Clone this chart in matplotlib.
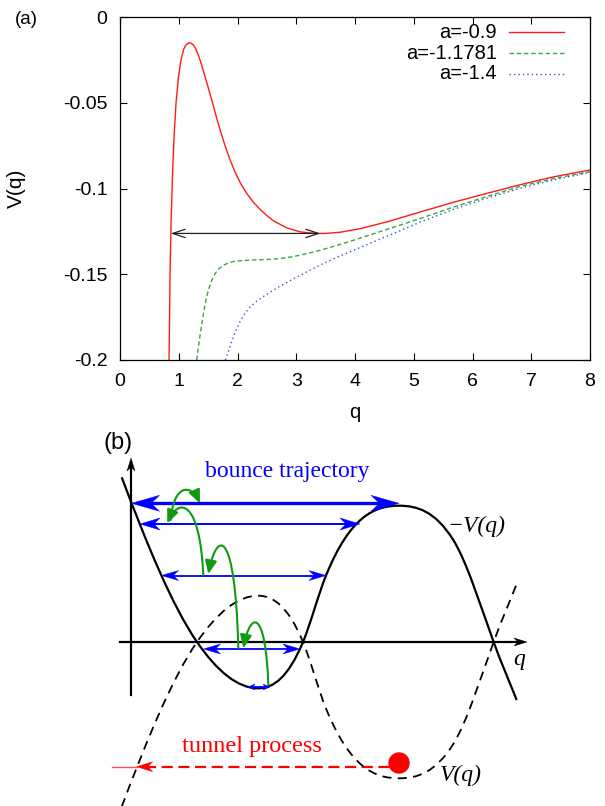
import matplotlib
matplotlib.use("Agg")
import matplotlib.pyplot as plt
from matplotlib.patches import Polygon, Circle, FancyArrowPatch, PathPatch
from matplotlib.path import Path

# ---- panel (a): V(q) for three values of a ----
red_q = [0.835, 0.852, 0.869, 0.896, 0.920, 0.954, 0.995, 1.039, 1.082, 1.124,
         1.175, 1.210, 1.249, 1.290, 1.334, 1.390, 1.448, 1.505, 1.562, 1.630,
         1.704, 1.790, 1.874, 1.960, 2.044, 2.160, 2.270, 2.385, 2.500, 2.610,
         2.840, 3.070, 3.320, 3.500, 3.750, 4.090, 4.540, 5.110, 5.680, 6.250,
         6.810, 7.380, 8.000]
red_v = [-0.2000, -0.1500, -0.1200, -0.0900, -0.0700, -0.0500, -0.0350, -0.0250,
         -0.0190, -0.0162, -0.0150, -0.0153, -0.0163, -0.0186, -0.0222, -0.0280,
         -0.0348, -0.0416, -0.0484, -0.0570, -0.0659, -0.0752, -0.0834, -0.0905,
         -0.0965, -0.1030, -0.1080, -0.1122, -0.1158, -0.1188, -0.1230, -0.1253,
         -0.1262, -0.1262, -0.1255, -0.1234, -0.1195, -0.1137, -0.1080, -0.1028,
         -0.0978, -0.0932, -0.0892]

green_q = [1.306, 1.330, 1.363, 1.390, 1.420, 1.460, 1.504, 1.560, 1.618, 1.690,
           1.760, 1.850, 1.930, 2.100, 2.270, 2.450, 2.610, 2.800, 2.950, 3.180,
           3.410, 3.700, 3.970, 4.540, 5.110, 5.680, 6.250, 6.810, 7.380, 8.000]
green_v = [-0.2000, -0.1935, -0.1855, -0.1793, -0.1730, -0.1655, -0.1593, -0.1537,
           -0.1496, -0.1466, -0.1448, -0.1433, -0.1425, -0.1420, -0.1417, -0.1415,
           -0.1412, -0.1405, -0.1397, -0.1380, -0.1360, -0.1331, -0.1302, -0.1239,
           -0.1175, -0.1108, -0.1046, -0.0988, -0.0942, -0.0902]

blue_q = [1.795, 1.850, 1.910, 1.970, 2.040, 2.120, 2.210, 2.320, 2.440, 2.670,
          2.950, 3.180, 3.410, 3.700, 3.970, 4.540, 5.110, 5.680, 6.250, 6.810,
          7.380, 8.000]
blue_v = [-0.2000, -0.1944, -0.1884, -0.1830, -0.1778, -0.1731, -0.1693, -0.1659,
          -0.1630, -0.1580, -0.1527, -0.1486, -0.1446, -0.1400, -0.1361, -0.1279,
          -0.1196, -0.1121, -0.1056, -0.0999, -0.0950, -0.0906]

labels = ["a=-0.9", "a=-1.1781", "a=-1.4"]
xticks = [0, 1, 2, 3, 4, 5, 6, 7, 8]
yticks = [0, -0.05, -0.1, -0.15, -0.2]
ytick_labels = ["0", "-0.05", "-0.1", "-0.15", "-0.2"]

# width of the well for a=-0.9
bounce_q = (0.864, 3.41)
bounce_v = -0.1262

# ---- panel (b): schematic -V(q), knots with slopes (origin where axes cross) ----
sk_q = [-9.3, 66, 127.3, 172, 195, 268, 322.3, 363, 385.7]
sk_mv = [164.7, 0, -46.3, 0, 66.5, 136.3, 102, -1, -58]
sk_slope = [-2.65, -1.45, 0, 2.4, 2.45, 0, -1.6, -2.75, -2.5]

# bounce levels: height, left tip, right tip
lvl_h = [138.7, 118, 66.5, -7, -45]
lvl_left = [0.5, 9, 30.5, 72.5, 117]
lvl_right = [268, 229, 195, 169, 139]
lvl_head = [28, 20, 17, 17, 7]
lvl_halfw = [8, 6, 5, 5, 3]
lvl_lw = [2.4, 1.4, 1.3, 1.3, 1.3]

# green hops: start (x, h), end (x, h), peak height
hop_start = [(39.7, 122), (72.3, 67), (107.3, -6), (137.3, -43)]
hop_end = [(69, 138.7), (36.3, 118.7), (77.3, 68), (112.3, -6.3)]
hop_peak = [151.3, 131.3, 92.7, 18]

ball = (268, -121)
tunnel_h = -124.7
tunnel_tip = 5.7
tunnel_tail = -19.3

RED = "#ff1a1a"
GREEN = "#3aa83a"
BLUE = "#3355cc"


def stealth(ax, tip, d, length, halfw, color):
    tx, ty = tip
    px, py = -d[1], d[0]
    bx, by = tx - length * d[0], ty - length * d[1]
    nx, ny = tx - 0.7 * length * d[0], ty - 0.7 * length * d[1]
    pts = [(tx, ty), (bx + halfw * px, by + halfw * py), (nx, ny),
           (bx - halfw * px, by - halfw * py)]
    ax.add_patch(Polygon(pts, closed=True, fc=color, ec=color, lw=0.3, zorder=4))


def sketch_path(q, h, s, sign=1):
    verts = [(q[0], sign * h[0])]
    codes = [Path.MOVETO]
    for i in range(len(q) - 1):
        dx = q[i + 1] - q[i]
        verts += [(q[i] + dx / 3, sign * (h[i] + s[i] * dx / 3)),
                  (q[i + 1] - dx / 3, sign * (h[i + 1] - s[i + 1] * dx / 3)),
                  (q[i + 1], sign * h[i + 1])]
        codes += [Path.CURVE4] * 3
    return Path(verts, codes)


fig = plt.figure(figsize=(6.05, 8.06), dpi=100)

# ================= panel (a) =================
ax = fig.add_axes([120 / 605, 1 - 360 / 806, 470 / 605, 343 / 806])
ax.plot(red_q, red_v, color=RED, lw=1.0)
ax.plot(green_q, green_v, color=GREEN, lw=1.0, ls=(0, (3.2, 2.0)))
ax.plot(blue_q, blue_v, color=BLUE, lw=1.0, ls=(0, (1.0, 2.2)))
ax.annotate("", xy=(bounce_q[0], bounce_v), xytext=(bounce_q[1], bounce_v),
            arrowprops=dict(arrowstyle="<->,head_length=0.9,head_width=0.3",
                            color="#222222", lw=0.9, shrinkA=0, shrinkB=0))
ax.set_xlim(0, 8)
ax.set_ylim(-0.2, 0)
ax.set_xticks(xticks)
ax.set_yticks(yticks)
ax.set_yticklabels(ytick_labels)
ax.tick_params(direction="in", top=True, right=True, length=5, width=0.8,
               labelsize=14)
ax.tick_params(axis="x", pad=9)
ax.tick_params(axis="y", pad=9)
for lab in ax.get_xticklabels() + ax.get_yticklabels():
    lab.set_family("Liberation Sans")
for s in ax.spines.values():
    s.set_linewidth(0.9)

# legend, gnuplot style (text right of key line)
leg_rows = [0.955, 0.895, 0.834]
for lab, col, ls, yy in zip(labels, [RED, GREEN, BLUE],
                            ["-", (0, (3.2, 2.0)), (0, (1.0, 2.2))], leg_rows):
    ax.text(0.802, yy, lab, transform=ax.transAxes, ha="right", va="center",
            fontsize=14.5, family="Liberation Sans")
    ax.plot([0.828, 0.945], [yy, yy], transform=ax.transAxes, color=col,
            lw=1.0, ls=ls)

fig.text(26 / 605, 1 - 20 / 806, "(a)", ha="center", va="center",
         fontsize=13.5, family="Liberation Sans")
fig.text(16 / 605, 1 - 188 / 806, "V(q)", ha="center", va="center",
         rotation=90, fontsize=15, family="Liberation Sans")
fig.text(355 / 605, 1 - 413 / 806, "q", ha="center", va="center",
         fontsize=14.5, family="Liberation Sans")

# ================= panel (b) =================
axb = fig.add_axes([0, 0, 1, 376 / 806])
axb.set_xlim(-131, 474)
axb.set_ylim(-164, 212)
axb.axis("off")
axb.patch.set_visible(False)

# coordinate axes with arrow heads
axb.plot([0, 0], [-53, 176], color="k", lw=1.6)
axb.plot([-11, 388], [0, 0], color="k", lw=1.6)
stealth(axb, (0, 184), (0, 1), 13, 4, "k")
stealth(axb, (396, 0), (1, 0), 13, 4, "k")

axb.add_patch(PathPatch(sketch_path(sk_q, sk_mv, sk_slope), fill=False,
                        ec="k", lw=1.6, zorder=3))
axb.add_patch(PathPatch(sketch_path(sk_q, sk_mv, sk_slope, sign=-1), fill=False,
                        ec="k", lw=1.3, ls=(0, (5, 3.5)), zorder=3))

for h, xl, xr, hl, hw, lw in zip(lvl_h, lvl_left, lvl_right, lvl_head,
                                 lvl_halfw, lvl_lw):
    axb.plot([xl + 0.5 * hl, xr - 0.5 * hl], [h, h], color="#0000ff", lw=lw,
             solid_capstyle="butt", zorder=4)
    stealth(axb, (xl, h), (-1, 0), hl, hw, "#0000ff")
    stealth(axb, (xr, h), (1, 0), hl, hw, "#0000ff")

for (x0, y0), (x3, y3), pk in zip(hop_start, hop_end, hop_peak):
    dx = x3 - x0
    Y = (pk - 0.125 * (y0 + y3)) / 0.75
    verts = [(x0, y0), (x0 + 0.1 * dx, Y), (x3 - 0.3 * dx, Y), (x3, y3)]
    path = Path(verts, [Path.MOVETO, Path.CURVE4, Path.CURVE4, Path.CURVE4])
    axb.add_patch(FancyArrowPatch(path=path, color="#119911", lw=1.5,
                                  arrowstyle="-|>,head_length=0.8,head_width=0.35",
                                  mutation_scale=10, zorder=5))

# tunnelling
axb.plot([tunnel_tail, tunnel_tip], [tunnel_h, tunnel_h], color="#ff5050", lw=1.0)
axb.plot([tunnel_tip + 8, ball[0]], [tunnel_h, tunnel_h], color="#ff0000",
         lw=1.6, ls=(0, (5, 2.5)))
stealth(axb, (tunnel_tip, tunnel_h), (-1, 0), 16, 5, "#ff0000")
axb.add_patch(Circle(ball, 10, color="#ff0000", zorder=6))

axb.text(-13, 199, "(b)", ha="center", va="center", fontsize=17,
         family="Liberation Sans")
axb.text(156, 170.3, "bounce trajectory", color="#0000ff", ha="center",
         va="center", fontsize=17, family="Liberation Serif")
axb.text(316, 115.3, "\u2212V(q)", ha="left", va="center", fontsize=17,
         family="Liberation Serif", style="italic")
axb.text(388, -18, "q", ha="center", va="center", fontsize=17,
         family="Liberation Serif", style="italic")
axb.text(309, -133, "V(q)", ha="left", va="center", fontsize=17,
         family="Liberation Serif", style="italic")
axb.text(120.7, -104.7, "tunnel process", color="#ff0000", ha="center",
         va="center", fontsize=17.5, family="Liberation Serif")

fig.savefig("out.png", dpi=100)
